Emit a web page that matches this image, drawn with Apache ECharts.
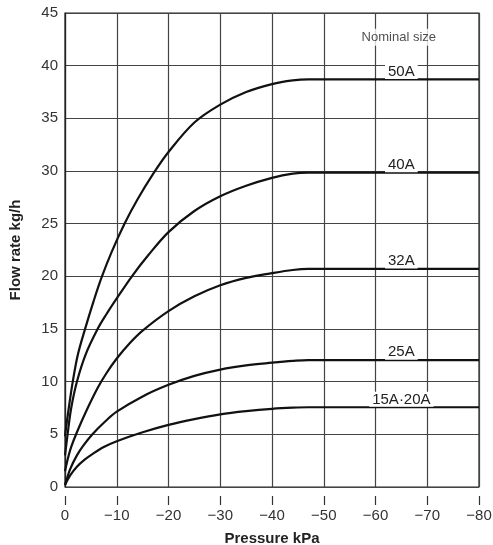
<!DOCTYPE html>
<html>
<head>
<meta charset="utf-8">
<script src="https://cdn.jsdelivr.net/npm/echarts@6/dist/echarts.min.js"></script>
<style>
  html, body { margin: 0; padding: 0; background: #fff; }
  #chart { width: 493px; height: 545px; }
</style>
</head>
<body>
<div id="chart"></div>
<script>
// pressure (kPa) and flow rate (kg/h)
var sizes = ['50A', '40A', '32A', '25A', '15A·20A'];

var pressure50 = [0, -0.5, -1.5, -2.5, -4, -5.5, -7, -9, -11.5, -14, -17, -20, -25, -30, -35, -40, -44, -47, -55, -65, -80];
var flow50     = [4.8, 6.7, 10, 12.6, 15.2, 17.6, 19.8, 22.3, 25.0, 27.3, 29.7, 31.8, 34.6, 36.3, 37.5, 38.25, 38.6, 38.7, 38.7, 38.7, 38.7];

var pressure40 = [0, -0.5, -1.2, -2.3, -4, -6.3, -8, -10, -13, -16, -20, -25, -30, -35, -40, -44, -47, -55, -65, -80];
var flow40     = [3.0, 5.0, 7.5, 10, 12.6, 15, 16.4, 17.9, 20.05, 21.95, 24.2, 26.2, 27.6, 28.6, 29.35, 29.75, 29.85, 29.85, 29.85, 29.85];

var pressure32 = [0, -0.5, -1.2, -2.3, -4, -6.3, -8, -10, -12.5, -15, -20, -25, -30, -35, -40, -44, -47, -55, -65, -80];
var flow32     = [1.5, 2.6, 3.8, 5.2, 7.1, 9.4, 10.8, 12.2, 13.65, 14.85, 16.7, 18.1, 19.15, 19.85, 20.3, 20.6, 20.7, 20.7, 20.7, 20.7];

var pressure25 = [0, -1, -2.3, -3.5, -5.3, -7.5, -10, -15, -20, -25, -30, -35, -40, -44, -47, -55, -65, -80];
var flow25     = [0.2, 1.7, 3.0, 3.9, 5.0, 6.1, 7.15, 8.6, 9.7, 10.55, 11.15, 11.55, 11.8, 11.97, 12.05, 12.05, 12.05, 12.05];

var pressure15 = [0, -1, -2.3, -3.8, -5.5, -7.5, -10, -15, -20, -25, -30, -35, -40, -44, -47, -55, -65, -80];
var flow15     = [0.2, 1.1, 1.93, 2.6, 3.2, 3.8, 4.35, 5.2, 5.9, 6.45, 6.9, 7.2, 7.42, 7.53, 7.57, 7.57, 7.57, 7.57];

var xTicks = [0, -10, -20, -30, -40, -50, -60, -70, -80];
var yTicks = [0, 5, 10, 15, 20, 25, 30, 35, 40, 45];

var curves = [
  [pressure50, flow50],
  [pressure40, flow40],
  [pressure32, flow32],
  [pressure25, flow25],
  [pressure15, flow15]
];

var font = "'Liberation Sans', Arial, Helvetica, sans-serif";
var chart = echarts.init(document.getElementById('chart'));

var series = curves.map(function (c, i) {
  var pts = c[0].map(function (p, j) { return [p, c[1][j]]; });
  var plateau = c[1][c[1].length - 1];
  return {
    name: sizes[i],
    type: 'line',
    data: pts,
    smooth: 0.35,
    symbol: 'none',
    lineStyle: { color: '#111', width: 2.2 },
    z: 3,
    markPoint: {
      symbol: 'rect',
      symbolSize: 0,
      data: [{ coord: [-65, plateau + 0.75], value: sizes[i] }],
      label: {
        show: true,
        formatter: sizes[i],
        fontFamily: font,
        fontSize: 15,
        color: '#222',
        backgroundColor: '#fff',
        padding: [0, 3, 0, 3],
        lineHeight: 15
      }
    }
  };
});

// "Nominal size" heading over the labels
series.push({
  type: 'scatter',
  data: [[-64.5, 42.7]],
  symbolSize: 0,
  silent: true,
  z: 4,
  label: {
    show: true,
    position: 'inside',
    formatter: 'Nominal size',
    fontFamily: font,
    fontSize: 13,
    color: '#222',
    backgroundColor: '#fff',
    padding: [2, 3, 2, 3]
  }
});

chart.setOption({
  animation: false,
  backgroundColor: '#fff',
  grid: {
    left: 65, right: 14, top: 13, bottom: 58,
    outerBoundsMode: 'none',
    containLabel: false,
    show: true,
    borderColor: '#222',
    borderWidth: 1.2
  },
  xAxis: {
    type: 'value',
    position: 'bottom',
    min: xTicks[xTicks.length - 1],
    max: xTicks[0],
    interval: 10,
    inverse: true,
    offset: 9,
    name: 'Pressure kPa',
    nameLocation: 'middle',
    nameGap: 35,
    nameTextStyle: { fontFamily: font, fontSize: 15, fontWeight: 'bold', color: '#222' },
    axisLine: { show: true, onZero: false, lineStyle: { color: '#fff', width: 1 } },
    axisTick: { show: true, inside: false, length: 9, lineStyle: { color: '#333', width: 1.2 } },
    axisLabel: {
      fontFamily: font, fontSize: 15, color: '#333', margin: 12,
      formatter: function (v) { return v === 0 ? '0' : '\u2212' + Math.abs(v); }
    },
    splitLine: { show: true, lineStyle: { color: '#444', width: 1.2 } }
  },
  yAxis: {
    type: 'value',
    min: yTicks[0],
    max: yTicks[yTicks.length - 1],
    interval: 5,
    name: 'Flow rate kg/h',
    nameLocation: 'middle',
    nameGap: 42,
    nameTextStyle: { fontFamily: font, fontSize: 15, fontWeight: 'bold', color: '#222' },
    axisLine: { show: true, onZero: false, lineStyle: { color: '#222', width: 1.2 } },
    axisTick: { show: false },
    axisLabel: { fontFamily: font, fontSize: 15, color: '#333', margin: 7 },
    splitLine: { show: true, lineStyle: { color: '#444', width: 1.2 } }
  },
  series: series
});
</script>
</body>
</html>
